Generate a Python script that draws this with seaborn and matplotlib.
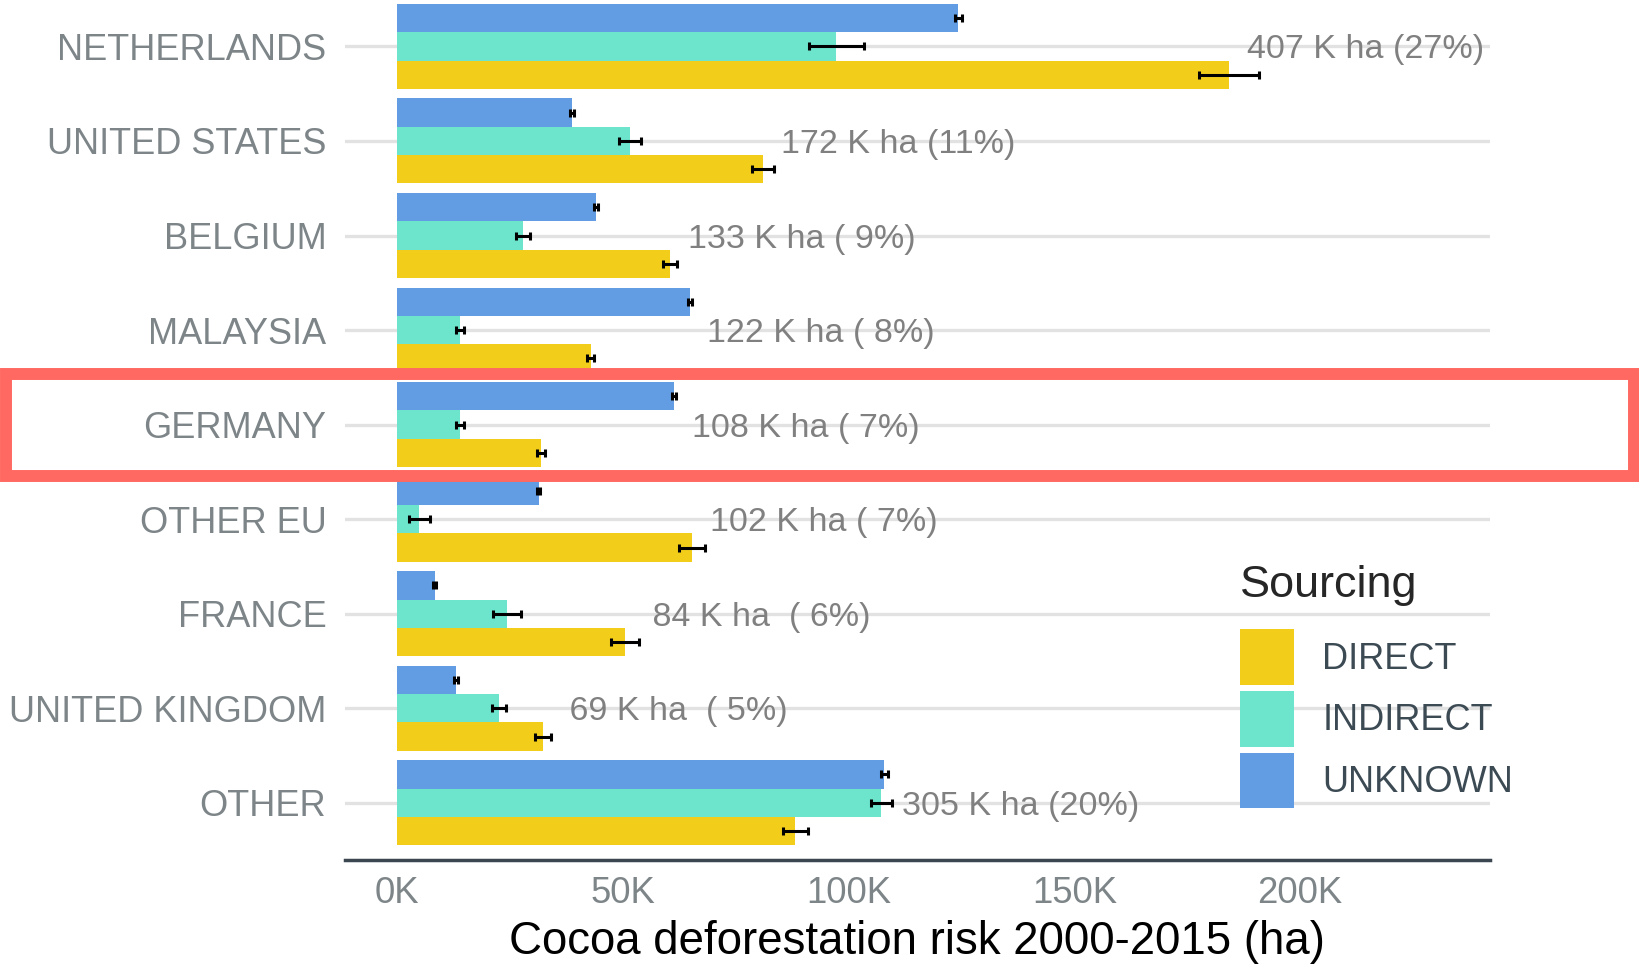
import numpy as np
import pandas as pd
import seaborn as sns
import matplotlib.pyplot as plt
from matplotlib.patches import Patch, Rectangle
from matplotlib.ticker import FuncFormatter
from matplotlib import transforms

countries = ["NETHERLANDS", "UNITED STATES", "BELGIUM", "MALAYSIA", "GERMANY",
             "OTHER EU", "FRANCE", "UNITED KINGDOM", "OTHER"]
# values in thousand ha
unknown = [124.3, 38.7, 44.0, 64.8, 61.3, 31.3, 8.3, 13.0, 107.9]
indirect = [97.2, 51.6, 27.8, 13.9, 13.9, 4.9, 24.3, 22.5, 107.2]
direct = [184.3, 81.0, 60.4, 42.8, 31.9, 65.3, 50.5, 32.2, 88.2]
err_unknown = [0.8, 0.5, 0.5, 0.5, 0.5, 0.4, 0.3, 0.4, 0.8]
err_indirect = [6.1, 2.4, 1.6, 0.8, 0.9, 2.4, 3.1, 1.6, 2.3]
err_direct = [6.7, 2.5, 1.6, 0.7, 0.9, 2.9, 3.1, 1.8, 2.7]
totals = ["407 K ha (27%)", "172 K ha (11%)", "133 K ha ( 9%)", "122 K ha ( 8%)",
          "108 K ha ( 7%)", "102 K ha ( 7%)", " 84 K ha  ( 6%)", " 69 K ha  ( 5%)",
          "305 K ha (20%)"]
highlight = "GERMANY"

sourcing = ["UNKNOWN", "INDIRECT", "DIRECT"]  # top to bottom inside a group
colors = {"DIRECT": "#F2CE1B", "INDIRECT": "#6CE5CC", "UNKNOWN": "#629DE4"}

df = pd.DataFrame({
    "country": countries * 3,
    "sourcing": np.repeat(sourcing, len(countries)),
    "value": np.array(unknown + indirect + direct) * 1000,
    "err": np.array(err_unknown + err_indirect + err_direct) * 1000,
})

sns.set_theme(style="white")
plt.rcParams["font.family"] = ["Liberation Sans", "DejaVu Sans"]

fig = plt.figure(figsize=(16.39, 9.66), dpi=100)
ax = fig.add_axes([0.2105, 0.1102, 0.6983, 0.9005])

width = 0.9
sns.barplot(data=df, y="country", x="value", hue="sourcing", order=countries,
            hue_order=sourcing, palette=colors, saturation=1, orient="h",
            width=width, errorbar=None, legend=False, linewidth=0, ax=ax)

# error bars at the dodged bar centres
n = len(sourcing)
offsets = (np.arange(n) - (n - 1) / 2) * width / n
for j, s in enumerate(sourcing):
    sub = df[df["sourcing"] == s].set_index("country").loc[countries]
    ax.errorbar(sub["value"], np.arange(len(countries)) + offsets[j], xerr=sub["err"],
                fmt="none", ecolor="black", elinewidth=2.2, capsize=2.6, capthick=2.2,
                zorder=3)

# total labels right of the longest bar of each country
maxes = df.groupby("country")["value"].max().loc[countries]
for i, (c, txt) in enumerate(zip(countries, totals)):
    ax.text(maxes[c] + 3900, i, txt, va="center_baseline", ha="left", fontsize=24.5,
            color="#808080")

ax.set_xlim(-11600, 242000)
ax.set_ylim(len(countries) - 0.4, -0.6)
ax.set_xticks([0, 50000, 100000, 150000, 200000])
ax.xaxis.set_major_formatter(FuncFormatter(lambda v, p: f"{v / 1000:.0f}K"))
ax.set_xlabel("Cocoa deforestation risk 2000-2015 (ha)", fontsize=32.9,
              color="black", labelpad=6.5)
ax.set_ylabel("")
ax.tick_params(axis="y", length=0, pad=13.5, labelsize=26, labelcolor="#7d8588")
ax.tick_params(axis="x", length=0, pad=11.5, labelsize=26.3, labelcolor="#7d8588")

ax.grid(axis="y", color="#e2e2e2", linewidth=2.4)
ax.grid(axis="x", visible=False)
ax.set_axisbelow(True)
for side in ["top", "right", "left"]:
    ax.spines[side].set_visible(False)
ax.spines["bottom"].set_color("#3b4650")
ax.spines["bottom"].set_linewidth(2.5)

handles = [Patch(facecolor=colors[s], edgecolor="none", label=s)
           for s in ["DIRECT", "INDIRECT", "UNKNOWN"]]
leg = fig.legend(handles=handles, title="Sourcing", loc="upper left",
                 bbox_to_anchor=(0.7565, 0.4147), frameon=False, fontsize=26,
                 title_fontsize=32.4, handlelength=1.5, handleheight=1.99,
                 labelspacing=0.17, handletextpad=0.78, borderpad=0,
                 borderaxespad=0, alignment="left")
leg._legend_box.sep = 16.5
for t in leg.get_texts():
    t.set_color("#3c4a54")

# red box around the highlighted country row
hi = countries.index(highlight)
trans = transforms.blended_transform_factory(fig.transFigure, ax.transData)
fig.add_artist(Rectangle((6 / 1639, hi - 0.54), 1628 / 1639, 1.08, transform=trans,
                         fill=False, edgecolor="#FF6961", linewidth=8.6,
                         clip_on=False, zorder=5))

fig.savefig("out.png", dpi=100)
